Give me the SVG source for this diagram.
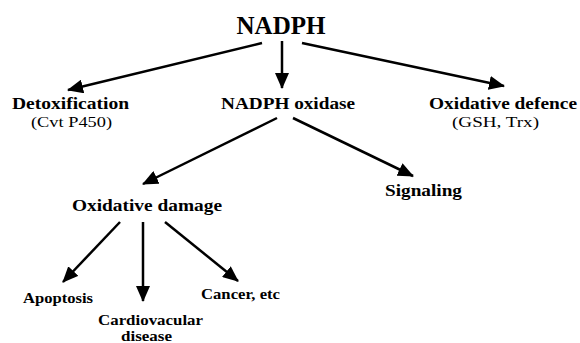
<svg xmlns="http://www.w3.org/2000/svg" width="580" height="343" viewBox="0 0 580 343">
<style>
text{font-family:'Liberation Serif','Times New Roman',serif;fill:#000;text-anchor:middle}
.b{font-weight:bold}
.t{font-size:26px}
.m{font-size:17px}
.p{font-size:15.5px}
.s{font-size:15px}
.c line{stroke:#000;stroke-width:2.5;marker-end:url(#ah)}
</style>
<defs>
<marker id="ah" markerUnits="userSpaceOnUse" markerWidth="16" markerHeight="14" viewBox="0 0 16 14" refX="15" refY="7" orient="auto">
<path d="M0,0 L16,7 L0,14 z" fill="#000"/>
</marker>
</defs>
<rect width="580" height="343" fill="#fff"/>
<g class="c" id="connectors">
<line x1="262" y1="43" x2="68" y2="90"/>
<line x1="282" y1="41" x2="282" y2="88"/>
<line x1="302" y1="43" x2="504" y2="86"/>
<line x1="277" y1="118" x2="143" y2="184"/>
<line x1="293" y1="118" x2="413" y2="176"/>
<line x1="120" y1="222" x2="63" y2="282"/>
<line x1="143" y1="222" x2="143" y2="301"/>
<line x1="165" y1="222" x2="238" y2="281"/>
</g>
<g id="nadph"><text class="b t" x="281" y="33.5" textLength="89" lengthAdjust="spacingAndGlyphs">NADPH</text></g>
<g id="detox"><text class="b m" x="70.5" y="108.5" textLength="117" lengthAdjust="spacingAndGlyphs">Detoxification</text>
<text class="p" x="71.5" y="127" textLength="81" lengthAdjust="spacingAndGlyphs">(Cvt P450)</text></g>
<g id="oxidase"><text class="b m" x="288" y="108.5" textLength="134" lengthAdjust="spacingAndGlyphs">NADPH oxidase</text></g>
<g id="defence"><text class="b m" x="503" y="108.5" textLength="148" lengthAdjust="spacingAndGlyphs">Oxidative defence</text>
<text class="p" x="495.5" y="127" textLength="87" lengthAdjust="spacingAndGlyphs">(GSH, Trx)</text></g>
<g id="damage"><text class="b m" x="147" y="211" textLength="150" lengthAdjust="spacingAndGlyphs">Oxidative damage</text></g>
<g id="signaling"><text class="b m" x="423.5" y="196" textLength="77" lengthAdjust="spacingAndGlyphs">Signaling</text></g>
<g id="apoptosis"><text class="b s" x="58" y="303" textLength="70" lengthAdjust="spacingAndGlyphs">Apoptosis</text></g>
<g id="cardio"><text class="b s" x="150.5" y="325" textLength="105" lengthAdjust="spacingAndGlyphs">Cardiovacular</text>
<text class="b s" x="146.5" y="341" textLength="51" lengthAdjust="spacingAndGlyphs">disease</text></g>
<g id="cancer"><text class="b s" x="240.5" y="299" textLength="79" lengthAdjust="spacingAndGlyphs">Cancer, etc</text></g>
</svg>
